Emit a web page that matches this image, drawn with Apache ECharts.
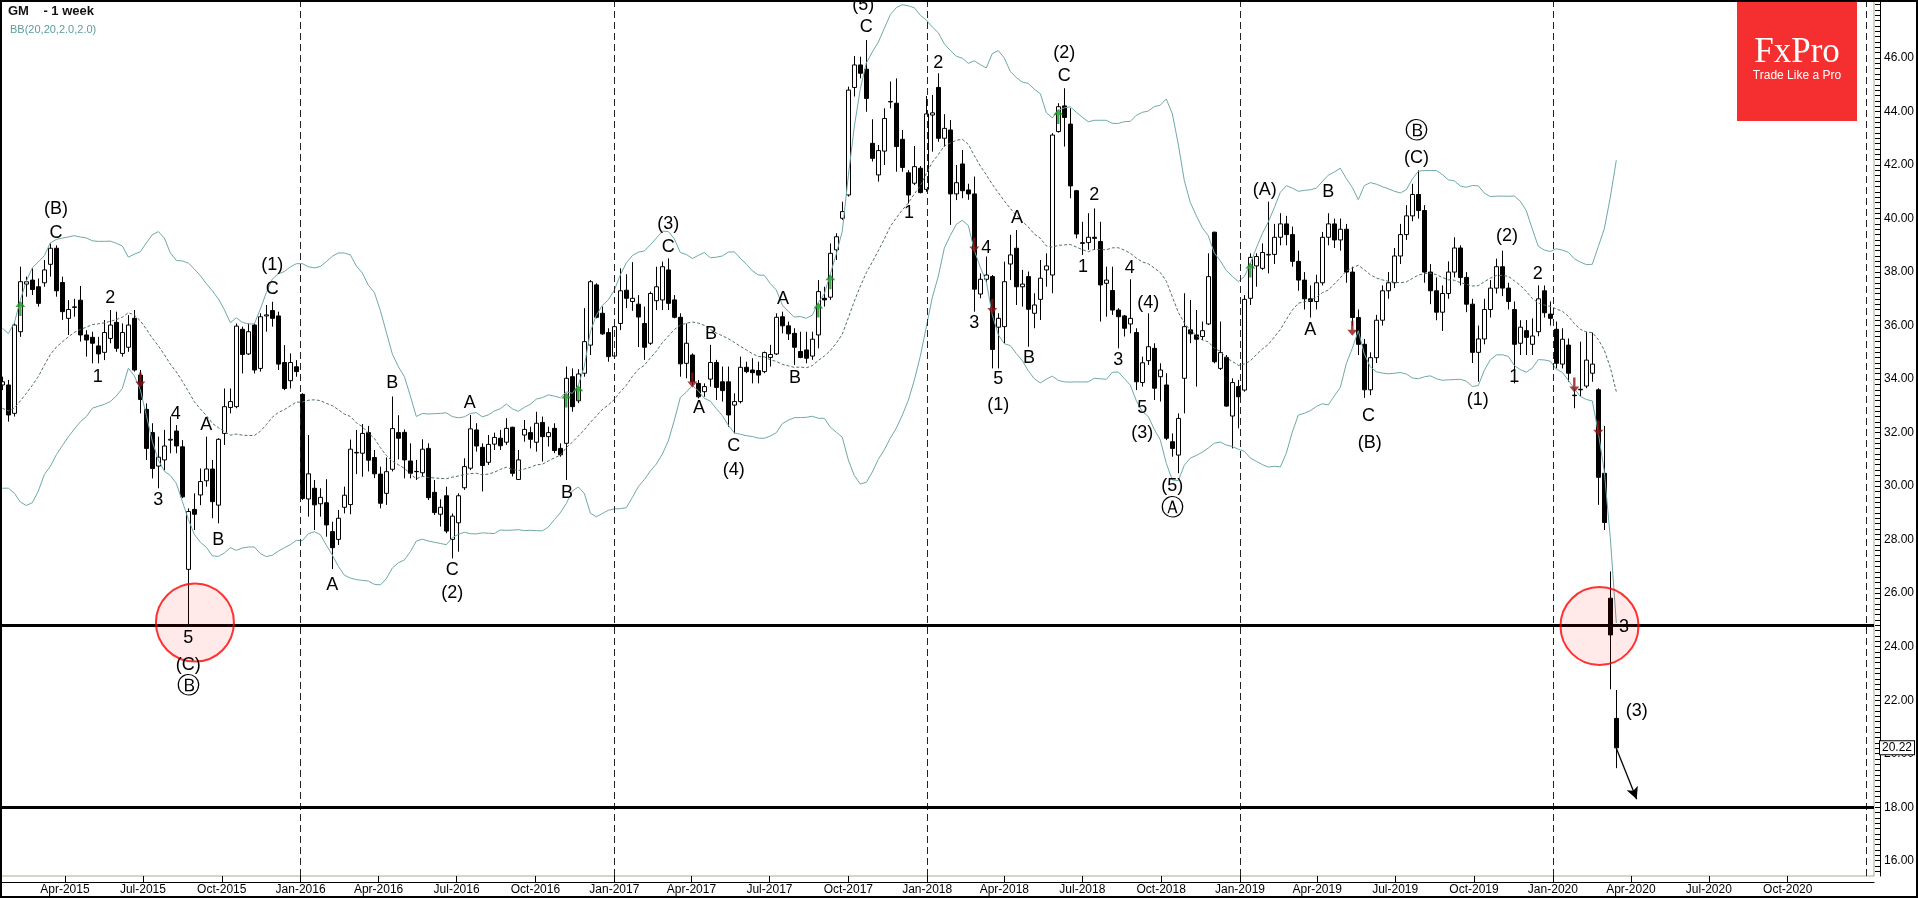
<!DOCTYPE html>
<html><head><meta charset="utf-8">
<script src="https://cdn.jsdelivr.net/npm/echarts@6/dist/echarts.min.js"></script>
<style>html,body{margin:0;padding:0;background:#fff;overflow:hidden}#c{width:1918px;height:898px}</style>
</head><body><div id="c"></div><script>
// ---- data (weekly bars, first bar = week starting 2015-01-18) ----
const firstWeek = '2015-01-18';
const open = [
33.78,33.78,32.72,35.77,37.55,37.70,37.45,37.60,38.29,38.89,
37.61,36.27,36.68,36.95,35.65,35.56,35.24,35.00,35.52,36.12,
34.96,35.19,36.27,34.15,32.87,32.00,30.75,30.98,31.72,32.06,
31.47,26.89,29.13,29.67,30.20,30.64,29.29,31.97,32.94,32.97,
35.86,34.94,36.02,34.40,36.36,36.56,36.36,34.62,33.94,34.46,
33.43,29.52,29.92,29.34,29.38,28.30,28.01,29.21,29.31,31.24,
31.23,32.00,31.07,30.45,29.73,30.63,32.00,32.01,30.94,30.55,
30.50,31.41,29.77,28.95,29.64,28.01,28.63,29.94,30.67,32.10,
31.45,30.89,31.57,31.79,31.64,32.20,30.25,31.91,32.00,31.64,
32.38,31.85,32.16,31.41,31.60,34.09,33.19,34.22,35.27,37.52,
36.46,35.74,34.86,36.08,37.32,36.90,36.80,36.08,35.34,36.93,
36.96,38.08,36.96,36.31,34.59,34.90,33.84,33.53,34.00,34.62,
33.90,33.90,33.03,33.16,34.44,34.34,34.32,34.28,34.81,34.94,
36.33,35.99,35.71,35.03,35.09,34.86,35.65,37.02,37.06,38.83,
40.01,40.88,44.90,45.74,45.58,42.81,41.63,42.52,44.37,44.31,
42.96,41.71,41.32,41.88,41.09,43.87,44.90,43.00,43.31,40.92,
42.04,41.07,40.92,37.18,37.73,37.83,35.94,35.96,38.30,38.89,
37.45,37.83,36.46,36.98,38.08,37.89,43.25,44.21,43.53,41.04,
39.07,39.10,39.30,39.14,37.58,37.31,36.58,36.36,36.06,35.74,
33.87,34.69,35.15,34.09,33.78,31.66,31.16,34.03,35.84,35.65,
35.59,36.06,39.49,34.40,34.81,32.62,33.72,33.59,37.02,38.23,
38.14,38.64,38.66,39.30,39.80,39.40,38.40,37.70,37.00,36.90,
37.60,39.30,39.80,39.20,39.60,38.00,36.30,35.30,33.60,34.80,
36.20,37.30,37.60,38.60,39.40,40.10,40.90,40.30,38.00,37.30,
36.50,37.20,38.00,38.90,37.80,36.80,35.00,35.50,36.60,37.40,
38.20,37.40,36.60,35.34,35.81,35.30,35.77,37.30,36.43,35.86,
34.56,35.27,33.40,33.60,33.74,34.22,33.60,30.48,25.81,21.32];
const close = [
33.90,32.66,36.02,37.64,37.64,37.35,36.83,38.08,38.89,37.30,
36.52,36.60,36.70,35.65,35.46,35.34,34.94,35.74,36.02,35.15,
35.74,36.02,34.34,33.24,31.41,30.66,31.08,31.50,31.75,31.50,
29.60,29.05,28.95,30.17,30.64,29.42,31.75,32.97,33.16,35.98,
34.92,35.77,34.34,36.33,36.40,36.27,34.56,33.65,34.62,34.28,
29.54,30.46,29.30,29.58,28.55,27.70,28.80,29.66,31.38,31.26,
31.97,30.97,30.46,29.36,30.54,32.15,31.79,30.98,30.48,30.54,
31.38,29.57,29.01,29.21,28.32,28.88,29.64,30.73,32.14,31.50,
30.77,31.56,31.82,31.51,32.16,30.48,30.98,32.12,31.75,32.35,
31.85,32.00,31.33,31.17,34.03,32.97,34.19,35.40,37.64,36.31,
35.69,34.84,35.96,37.30,37.02,37.02,36.32,35.19,37.20,37.45,
38.20,36.83,36.31,34.57,35.34,33.90,33.34,33.72,34.62,33.69,
33.57,32.66,33.16,34.44,34.28,34.24,34.15,34.99,34.92,36.31,
35.99,35.69,35.19,34.81,34.78,35.49,37.27,36.96,38.70,39.32,
40.26,44.80,45.74,45.43,44.49,42.25,42.54,43.74,44.36,42.69,
41.91,40.88,41.94,40.97,43.91,43.95,43.00,43.37,40.92,41.34,
41.04,40.92,37.36,37.73,37.89,35.11,36.27,37.64,38.64,37.45,
37.55,36.61,36.77,37.77,38.23,43.12,44.18,43.78,41.22,39.42,
39.10,39.30,39.26,37.52,37.70,36.58,36.33,35.90,36.27,33.90,
34.61,35.21,33.66,34.34,31.79,31.41,32.53,35.96,35.69,35.49,
35.81,37.83,34.65,34.99,32.99,33.87,33.34,36.98,38.55,38.58,
38.73,38.66,39.30,39.80,39.40,38.40,37.70,37.00,36.90,37.60,
39.30,39.80,39.20,39.60,38.00,36.30,35.30,33.60,34.80,36.20,
37.30,37.60,38.60,39.40,40.10,40.90,40.30,38.00,37.30,36.50,
37.20,38.00,38.90,37.80,36.80,35.00,35.50,36.60,37.40,38.20,
37.40,36.90,35.30,35.94,35.56,35.61,37.00,36.48,36.27,34.59,
35.49,34.22,33.38,33.62,34.71,34.56,30.33,28.64,24.44,20.22];
const low = [
33.59,32.41,32.60,35.58,37.08,37.14,36.71,37.45,37.83,37.08,
36.21,35.65,36.33,35.40,34.84,34.59,34.59,34.71,35.34,35.02,
34.84,35.02,34.28,32.72,30.98,30.29,29.92,30.60,31.23,31.23,
29.55,24.80,28.36,29.29,29.98,28.80,28.61,31.54,32.72,32.91,
34.21,34.90,34.21,34.28,35.77,35.96,34.34,33.59,33.65,34.09,
29.48,28.86,28.36,28.86,28.11,26.90,27.80,28.98,28.95,30.45,
30.35,30.55,30.30,29.17,29.30,30.55,31.00,30.29,30.29,30.23,
30.36,29.48,28.92,28.49,28.24,27.30,27.55,29.86,30.60,31.29,
29.80,30.79,31.35,31.35,31.54,30.36,30.23,31.66,31.41,31.29,
30.92,31.48,31.23,31.10,30.23,32.78,33.10,34.09,34.90,36.27,
35.65,34.65,34.84,35.83,36.65,36.55,35.20,34.72,35.28,36.58,
36.58,36.58,36.27,34.09,34.03,33.78,33.28,33.34,33.72,33.22,
33.16,32.22,31.97,33.09,34.22,33.84,33.84,34.22,34.47,34.90,
35.71,35.46,34.53,34.78,34.59,34.72,35.15,36.71,36.96,38.45,
39.95,40.82,44.56,45.24,43.99,42.13,41.38,42.00,44.12,41.75,
41.75,40.57,41.25,40.94,41.00,42.50,42.87,42.69,39.76,40.69,
40.76,40.70,36.52,37.02,37.58,34.40,34.40,35.34,37.70,36.77,
36.71,35.21,35.90,36.21,37.45,37.21,43.21,42.69,40.76,39.26,
38.64,38.83,38.83,36.15,36.33,36.40,35.15,35.59,35.71,33.59,
33.72,34.53,33.22,33.16,31.72,31.10,30.48,32.72,35.34,33.72,
35.46,36.02,34.59,34.34,32.97,31.41,32.16,33.53,36.77,37.45,
38.08,37.95,38.30,39.00,39.00,38.20,37.30,36.60,36.30,36.60,
37.50,39.00,38.90,38.80,37.60,36.00,34.90,33.30,33.40,34.60,
36.00,37.00,37.40,38.30,39.20,39.90,40.00,37.60,36.80,36.20,
35.80,37.00,37.80,37.50,36.50,34.60,33.90,35.30,36.30,37.20,
37.10,36.60,33.84,34.90,34.90,34.90,35.60,36.30,36.00,34.40,
34.40,33.90,32.91,33.35,33.66,33.90,29.30,28.36,22.41,19.46];
const high = [
34.09,33.97,36.08,38.20,37.83,38.14,37.76,38.45,39.07,39.00,
37.83,36.95,37.00,37.48,35.83,35.77,35.58,36.21,36.58,36.52,
36.08,36.39,36.58,34.34,33.09,32.35,31.85,32.10,32.60,32.28,
31.72,29.17,29.73,30.66,31.85,30.98,31.79,33.65,33.65,36.08,
35.96,36.08,36.08,36.46,36.77,36.89,36.52,35.27,34.96,34.71,
33.47,31.91,30.23,29.92,30.26,28.67,29.11,29.98,31.74,32.10,
32.32,32.25,31.35,30.73,31.07,33.35,32.65,32.12,31.60,30.98,
31.75,31.60,30.23,29.51,29.98,28.98,29.73,31.04,32.66,32.35,
31.60,31.91,32.00,32.10,32.54,32.22,31.35,32.47,32.22,32.78,
32.60,32.22,32.35,31.60,34.47,34.40,34.37,36.65,37.70,37.58,
36.71,35.90,36.02,38.14,37.92,38.37,37.14,36.71,37.27,38.20,
38.39,38.51,37.14,36.46,36.08,34.96,33.97,33.84,35.28,34.72,
34.47,34.47,33.47,34.84,34.65,34.78,34.65,35.03,35.28,36.46,
36.52,36.15,35.90,35.77,35.77,35.77,37.70,37.45,39.07,39.45,
40.63,44.93,46.07,46.05,46.67,43.71,42.75,44.12,45.12,45.24,
43.31,41.81,42.71,41.96,44.58,44.62,45.43,43.90,43.68,42.00,
42.56,41.30,41.57,37.95,38.58,37.89,36.46,38.39,39.39,39.57,
38.08,38.02,37.21,38.45,38.70,43.19,44.31,44.87,44.12,41.07,
39.88,40.20,40.38,39.88,38.20,38.20,36.65,36.40,37.73,35.90,
34.84,36.46,35.34,34.59,34.22,31.97,32.72,37.21,36.96,36.58,
36.15,38.70,39.51,36.15,34.90,34.03,33.97,37.14,38.70,38.70,
39.07,40.63,39.80,40.20,40.10,39.70,38.80,38.00,37.50,37.90,
39.50,40.20,40.00,40.00,39.80,38.20,36.60,35.50,35.00,36.40,
37.50,38.00,38.90,39.80,40.50,41.30,41.80,40.50,38.30,37.80,
37.50,38.40,39.30,39.00,38.00,37.00,36.00,37.00,37.70,38.50,
38.80,37.60,36.90,36.20,36.21,36.27,37.50,37.50,36.90,36.15,
35.90,35.52,33.66,35.40,35.77,35.74,33.66,32.25,26.81,22.38];
// closes of the 19 weeks before the first visible bar (needed by the 20-week bands)
const priorCloses = [34.6,33.9,32.4,31.9,31.3,30.3,29.6,31.0,31.7,32.6,32.9,33.3,33.4,33.9,33.3,34.4,35.0,34.9,33.9];

const tickLabels = ['Apr-2015','Jul-2015','Oct-2015','Jan-2016','Apr-2016','Jul-2016','Oct-2016',
  'Jan-2017','Apr-2017','Jul-2017','Oct-2017','Jan-2018','Apr-2018','Jul-2018','Oct-2018',
  'Jan-2019','Apr-2019','Jul-2019','Oct-2019','Jan-2020','Apr-2020','Jul-2020','Oct-2020'];
const yearLines = [2016,2017,2018,2019,2020,2021];
const yLabels = [16,18,20,22,24,26,28,30,32,34,36,38,40,42,44,46];

const levelLines = [24.8, 18.0];
const channelUpper = [[144, 46.67],[312, 37.21]];
const channelLower = [[144, 33.10],[312, 23.57]];
const circleWeeks = [32.1, 266.2];
const circlePrices = [24.9, 24.77];
const pathArrow = [[269, 20.2],[272.4, 18.3]];
const lastPrice = 20.22;

const upArrowWeeks = [3, 94, 96, 136, 138, 176, 208];
const upArrowPrices = [36.64, 33.22, 33.49, 36.58, 37.64, 43.81, 38.08];
const downArrowWeeks = [23, 115, 162, 165, 225, 262, 266];
const downArrowPrices = [33.97, 33.97, 39.01, 36.71, 35.9, 33.78, 32.16];

const labelTexts = ['(B)','C','2','1','4','3','A','B','(1)','C','5','(C)','Ⓑ','A','B','A','C','(2)','B','(3)',
 'C','B','A','C','(4)','A','B','C','(5)','2','1','(2)','C','4','3','5','(1)','A','B','2',
 '1','4','3','(4)','5','(3)','(5)','Ⓐ','(A)','A','B','C','(B)','Ⓑ','(C)','(1)','(2)','1','2','3','(3)'];
const labelWeeks = [8.94,8.94,18.0,15.9,28.9,26.0,34.0,36.0,45.0,45.0,31.0,31.0,31.0,55.0,65.0,77.9,75.0,75.0,94.1,111.0,
 111.0,118.1,116.1,121.9,121.9,130.1,132.1,144.0,143.5,156.0,151.1,177.0,177.0,164.0,162.0,166.0,166.0,169.1,171.1,182.0,
 180.1,187.9,186.0,191.0,190.0,190.0,195.0,195.0,210.4,218.0,221.0,227.7,227.9,235.7,235.7,245.9,250.8,252.0,255.9,270.3,272.4];
const labelPrices = [40.35,39.47,37.04,34.09,32.70,29.48,32.29,27.99,38.26,37.36,24.31,23.32,22.51,26.29,33.84,33.10,26.87,26.00,29.73,39.80,
 38.93,35.69,32.91,31.50,30.60,36.98,34.03,47.15,47.98,45.80,40.20,46.18,45.33,38.91,36.09,33.99,33.03,40.01,34.78,40.88,
 38.20,38.14,34.71,36.83,32.91,32.00,30.01,29.13,41.05,35.82,40.99,32.63,31.62,43.23,42.27,33.22,39.35,34.09,37.93,24.75,21.61];

// ---- helpers: x axis is measured in weeks since the first bar ----
const DAY = 86400000, WEEK = 7 * DAY;
const T0 = Date.parse(firstWeek + 'T00:00:00Z');
const weeksOf = t => (t - T0) / WEEK;
const MON = {Jan:0,Feb:1,Mar:2,Apr:3,May:4,Jun:5,Jul:6,Aug:7,Sep:8,Oct:9,Nov:10,Dec:11};
const tickValues = tickLabels.map(s => weeksOf(Date.UTC(+s.slice(4), MON[s.slice(0,3)], 1)));

const candles = close.map((c, k) => [k, open[k], c, low[k], high[k]]);
const all = priorCloses.concat(close);
const N = 20, MULT = 2;
const bbMid = [], bbUp = [], bbLo = [];
for (let k = 0; k < close.length; k++) {
  const win = all.slice(k, k + N);
  const m = win.reduce((a, b) => a + b, 0) / N;
  const sd = Math.sqrt(win.reduce((a, b) => a + (b - m) * (b - m), 0) / N);
  bbMid.push([k, m]); bbUp.push([k, m + MULT * sd]); bbLo.push([k, m - MULT * sd]);
}
const yTicks = [];
for (let v = 156; v <= 480; v += 2) yTicks.push(v / 10);

const FONT = 'Liberation Sans, Arial, sans-serif';
const chart = echarts.init(document.getElementById('c'), null, {renderer: 'canvas'});

const labelData = labelTexts.map((t, i) => {
  const circ = (t === 'Ⓐ' || t === 'Ⓑ');
  const it = {value: [labelWeeks[i], labelPrices[i]], name: t};
  if (circ) it.label = {fontSize: 23, fontFamily: 'DejaVu Sans, sans-serif'};
  return it;
});

const option = {
  animation: false,
  backgroundColor: '#fff',
  grid: {left: 1, right: 44, top: 1, bottom: 22, show: true, borderColor: '#a9a99b', borderWidth: 1,
         backgroundColor: '#fff', outerBoundsMode: 'none', containLabel: false},
  xAxis: {
    type: 'value', min: -0.222, max: 311.95, offset: 6, scale: true,
    axisLine: {show: true, onZero: false, lineStyle: {color: '#000', width: 1}},
    axisTick: {show: true, inside: true, length: 6, lineStyle: {color: '#000'}, customValues: tickValues},
    axisLabel: {show: true, customValues: tickValues, margin: 2, fontSize: 12, fontFamily: FONT, color: '#000',
      formatter: v => { let best = 0; tickValues.forEach((t, i) => { if (Math.abs(t - v) < Math.abs(tickValues[best] - v)) best = i; }); return tickLabels[best]; },
      hideOverlap: false, showMinLabel: true, showMaxLabel: true},
    splitLine: {show: false}, minorTick: {show: false}
  },
  yAxis: {
    type: 'value', position: 'right', min: 15.43, max: 48.13, offset: 6, scale: true,
    axisLine: {show: true, onZero: false, lineStyle: {color: '#000', width: 1}},
    axisTick: {show: true, inside: true, length: 5, lineStyle: {color: '#000'}, customValues: yTicks},
    axisLabel: {show: true, customValues: yLabels, margin: 4, fontSize: 12, fontFamily: FONT, color: '#000',
      formatter: v => Number(v).toFixed(2), showMinLabel: true, showMaxLabel: true},
    splitLine: {show: false}
  },
  series: [
    { // year separators
      type: 'line', data: [], z: 1, silent: true,
      markLine: {silent: true, symbol: ['none', 'none'], label: {show: false},
        lineStyle: {color: '#222', type: [7, 4], width: 1},
        data: yearLines.map(y => ({xAxis: weeksOf(Date.UTC(y, 0, 1))}))}
    },
    {
      type: 'candlestick', name: 'GM', data: candles, barWidth: 4, z: 3,
      itemStyle: {color: '#fff', color0: '#000', borderColor: '#000', borderColor0: '#000', borderWidth: 1}
    },
    {type: 'line', data: bbUp, showSymbol: false, symbol: 'none', z: 4, lineStyle: {color: '#6fa9a9', width: 1}},
    {type: 'line', data: bbLo, showSymbol: false, symbol: 'none', z: 4, lineStyle: {color: '#6fa9a9', width: 1}},
    {type: 'line', data: bbMid, showSymbol: false, symbol: 'none', z: 4, lineStyle: {color: '#506e6e', width: 1, type: [3, 2]}},
    { // red circles
      type: 'scatter', z: 5, symbol: 'circle', symbolSize: 78, silent: true,
      itemStyle: {color: 'rgba(255,0,0,0.11)', borderColor: '#ff0000', borderWidth: 2},
      data: circleWeeks.map((k, i) => [k, circlePrices[i]])
    },
    { // levels, channel, arrow
      type: 'line', data: [], z: 6, silent: true,
      markLine: {silent: true, symbol: ['none', 'none'], label: {show: false},
        data: [
          ...levelLines.map(v => ({yAxis: v, lineStyle: {color: '#000', width: 3, type: 'solid'}})),
          [{coord: channelUpper[0], lineStyle: {color: '#0000ff', width: 3, type: 'solid'}}, {coord: channelUpper[1]}],
          [{coord: channelLower[0], lineStyle: {color: '#0000ff', width: 3, type: 'solid'}}, {coord: channelLower[1]}],
          [{coord: pathArrow[0], symbol: 'none', lineStyle: {color: '#000', width: 1.3, type: 'solid'}},
           {coord: pathArrow[1], symbol: 'arrow', symbolSize: [9, 12]}]
        ]}
    },
    { // signal arrows up
      type: 'scatter', z: 7, silent: true,
      symbol: 'path://M5,0 L10,6 L6.2,6 L6.2,15 L3.8,15 L3.8,6 L0,6 Z', symbolSize: [10, 15],
      itemStyle: {color: '#15901a'},
      data: upArrowWeeks.map((k, i) => [k, upArrowPrices[i]])
    },
    { // signal arrows down
      type: 'scatter', z: 7, silent: true,
      symbol: 'path://M3.8,0 L6.2,0 L6.2,9 L10,9 L5,15 L0,9 L3.8,9 Z', symbolSize: [10, 15],
      itemStyle: {color: '#8f1212'},
      data: downArrowWeeks.map((k, i) => [k, downArrowPrices[i]])
    },
    { // wave labels
      type: 'scatter', z: 8, silent: true, symbol: 'circle', symbolSize: 0,
      itemStyle: {color: '#000', opacity: 1},
      label: {show: true, position: 'inside', formatter: '{b}', color: '#000', opacity: 1, fontSize: 18, fontFamily: FONT},
      emphasis: {disabled: true},
      data: labelData
    },
    { // last price tag
      type: 'line', data: [], z: 20, silent: true,
      markLine: {silent: true, symbol: ['none', 'none'], lineStyle: {color: 'rgba(0,0,0,0)', width: 1, type: 'solid'},
        label: {show: true, position: 'end', distance: 6, formatter: lastPrice.toFixed(2), color: '#000',
          fontSize: 12, fontFamily: FONT, backgroundColor: '#fff', borderColor: '#000', borderWidth: 1, padding: [1, 2, 0, 2]},
        data: [{yAxis: lastPrice}]}
    }
  ],
  graphic: [
    {type: 'text', left: 8, top: 5, z: 50, style: {text: 'GM    - 1 week', font: 'bold 13px ' + FONT, fill: '#111'}},
    {type: 'text', left: 10, top: 24, z: 50, style: {text: 'BB(20,20,2.0,2.0)', font: '11px ' + FONT, fill: '#5a9e9e'}},
    {type: 'rect', z: 50, shape: {x: 1737, y: 0, width: 120, height: 121}, style: {fill: '#f52f2f'}},
    {type: 'text', z: 51, x: 1797, y: 53, style: {text: 'FxPro', font: '35px Liberation Serif, Times New Roman, serif',
      fill: '#fff', textAlign: 'center', textVerticalAlign: 'middle'}},
    {type: 'text', z: 51, x: 1797, y: 76, style: {text: 'Trade Like a Pro', font: '12px ' + FONT,
      fill: '#fff', textAlign: 'center', textVerticalAlign: 'middle'}},
    {type: 'rect', z: 60, shape: {x: 1, y: 1, width: 1916, height: 896}, style: {fill: null, stroke: '#000', lineWidth: 2}}
  ]
};
chart.setOption(option);
</script></body></html>
